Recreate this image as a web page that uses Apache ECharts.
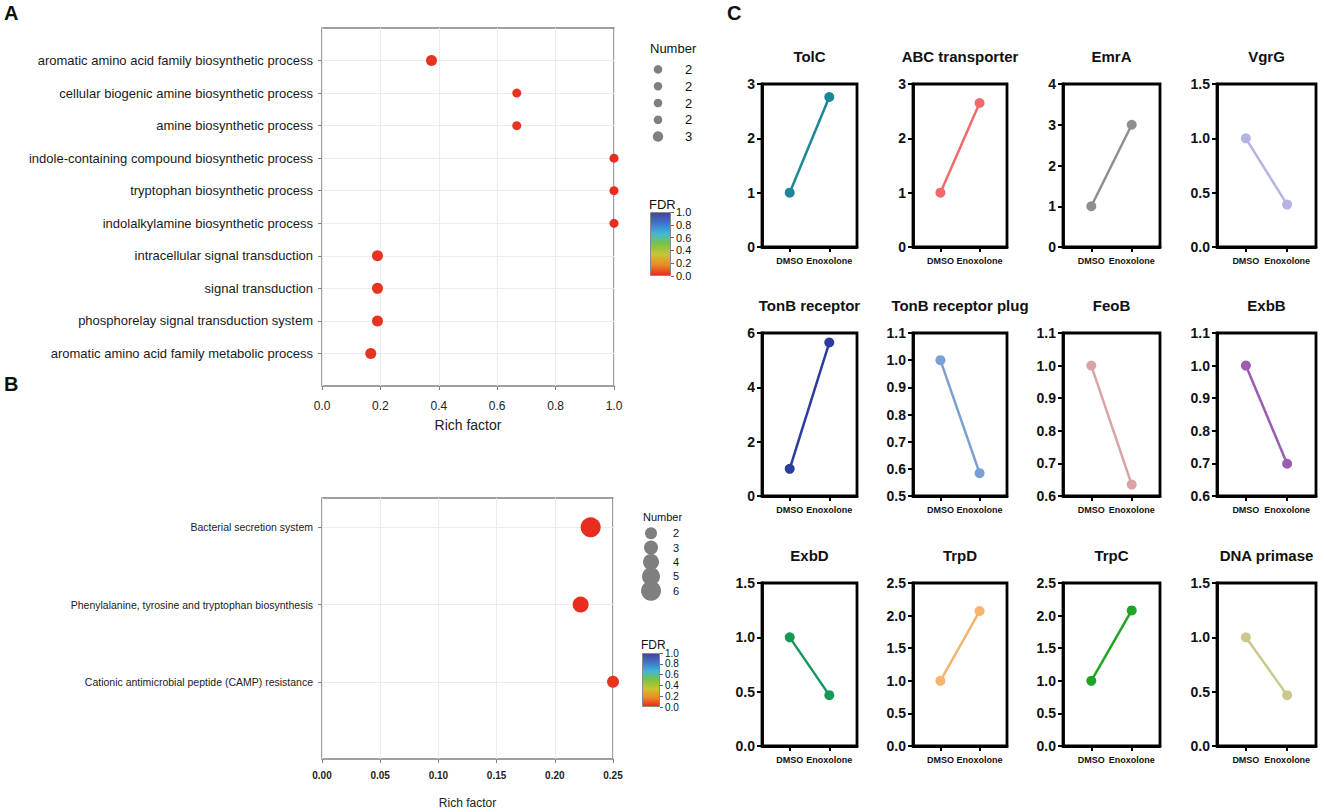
<!DOCTYPE html>
<html>
<head>
<meta charset="utf-8">
<script src="https://cdn.jsdelivr.net/npm/echarts@6.0.0/dist/echarts.min.js"></script>
<style>
  html, body { margin: 0; padding: 0; background: #fff; }
  #main { width: 1325px; height: 812px; }
</style>
</head>
<body>
<div id="main"></div>
<script>
// A: GO terms (top to bottom)
const termsA = [
  "aromatic amino acid family biosynthetic process",
  "cellular biogenic amine biosynthetic process",
  "amine biosynthetic process",
  "indole-containing compound biosynthetic process",
  "tryptophan biosynthetic process",
  "indolalkylamine biosynthetic process",
  "intracellular signal transduction",
  "signal transduction",
  "phosphorelay signal transduction system",
  "aromatic amino acid family metabolic process"
];
const richA = [0.375, 0.667, 0.667, 1.0, 1.0, 1.0, 0.19, 0.19, 0.19, 0.167];
const numberA = [3, 2, 2, 2, 2, 2, 3, 3, 3, 3];
const fdrA = [0.02, 0.02, 0.02, 0.01, 0.01, 0.01, 0.02, 0.02, 0.02, 0.02];
const legendNumA = [2, 2, 2, 2, 3];

// B: KEGG pathways (top to bottom)
const termsB = [
  "Bacterial secretion system",
  "Phenylalanine, tyrosine and tryptophan biosynthesis",
  "Cationic antimicrobial peptide (CAMP) resistance"
];
const richB = [0.2308, 0.2222, 0.25];
const numberB = [6, 4, 2];
const fdrB = [0.01, 0.01, 0.02];
const legendNumB = [2, 3, 4, 5, 6];

// C: relative expression
const genes = ["TolC", "ABC transporter", "EmrA", "VgrG",
  "TonB receptor", "TonB receptor plug", "FeoB", "ExbB",
  "ExbD", "TrpD", "TrpC", "DNA primase"];
const groups = ["DMSO", "Enoxolone"];
const dmso = [1, 1, 1, 1, 1, 1, 1, 1, 1, 1, 1, 1];
const enox = [2.76, 2.65, 3.0, 0.39, 5.65, 0.584, 0.635, 0.699, 0.468, 2.07, 2.08, 0.468];
const yMin = [0, 0, 0, 0, 0, 0.5, 0.6, 0.6, 0, 0, 0, 0];
const yMax = [3, 3, 4, 1.5, 6, 1.1, 1.1, 1.1, 1.5, 2.5, 2.5, 1.5];
const yStep = [1, 1, 1, 0.5, 2, 0.1, 0.1, 0.1, 0.5, 0.5, 0.5, 0.5];

// styles
const FONT = '"Liberation Sans", Arial, sans-serif';
const geneColors = ["#1b8797", "#ef6b6b", "#8f8f8f", "#b4b4e4",
  "#2b3c9c", "#7a9fd2", "#d8a4a6", "#9a5db0",
  "#17985a", "#f7b46e", "#1fa524", "#c9c98f"];
const fdrColors = ["#e8271f", "#ea8a26", "#c9c431", "#7cc242", "#3fb8d8", "#3d74c9", "#4b3f9c"];
const fdrGradient = new echarts.graphic.LinearGradient(0, 1, 0, 0,
  fdrColors.map((c, i) => ({ offset: i / (fdrColors.length - 1), color: c })));
const sizeA = n => 9 + (n - 2) * 2;
const sizeB = n => 12 + (n - 2) * 2;

const grids = [], xAxes = [], yAxes = [], series = [], texts = [];

function addGrid(g) {
  grids.push(Object.assign({ outerBoundsMode: "none", containLabel: false }, g));
  return grids.length - 1;
}
function addText(x, y, text, font, align) {
  texts.push({
    type: "text", x: x, y: y, silent: true,
    style: { text: text, font: font, fill: "#111", align: align || "left", verticalAlign: "middle" }
  });
}

// ---------- enrichment dot plot ----------
function dotPanel(cfg) {
  const n = cfg.terms.length;
  const gi = addGrid({ left: cfg.left, top: cfg.top, width: cfg.width, height: cfg.height,
    show: true, borderColor: "#808080", borderWidth: 1.5 });
  const rows = cfg.terms.map((t, i) => n - i);
  xAxes.push({
    gridIndex: gi, type: "value", min: 0, max: cfg.xMax, interval: cfg.xStep,
    axisLine: { show: false },
    axisTick: { show: true, length: 4, lineStyle: { color: "#808080" } },
    axisLabel: { formatter: v => v.toFixed(cfg.dec), fontSize: cfg.tickFont, fontWeight: cfg.tickWeight,
      color: "#222", margin: cfg.tickMargin, fontFamily: FONT },
    splitLine: { show: true, lineStyle: { color: "#ebebeb", width: 1 } },
    name: "Rich factor", nameLocation: "middle", nameGap: cfg.nameGap,
    nameTextStyle: { fontSize: cfg.nameFont, color: "#222", fontFamily: FONT }
  });
  yAxes.push({
    gridIndex: gi, type: "value", min: 0, max: cfg.yMax, interval: 1,
    axisLine: { show: false, onZero: false },
    axisTick: { show: true, length: 4, customValues: rows, lineStyle: { color: "#808080" } },
    axisLabel: { customValues: rows, formatter: v => cfg.terms[n - v] || "",
      fontSize: cfg.labelFont, color: "#1a1a1a", margin: 9, fontFamily: FONT },
    splitLine: { show: true, lineStyle: { color: "#ebebeb", width: 1 } }
  });
  series.push({
    type: "scatter", xAxisIndex: xAxes.length - 1, yAxisIndex: yAxes.length - 1,
    data: cfg.terms.map((t, i) => [cfg.rich[i], n - i, cfg.number[i], cfg.fdr[i]]),
    symbolSize: d => cfg.size(d[2]), itemStyle: { opacity: 1 }, z: 5
  });
  const dotSeries = series.length - 1;

  // size legend
  const lg = addGrid({ left: cfg.lgX - 8, top: cfg.lgTop, width: 16, height: cfg.lgHeight });
  xAxes.push({ gridIndex: lg, type: "value", min: -1, max: 1, show: false });
  yAxes.push({
    gridIndex: lg, type: "value", min: 0.5, max: 5.5, inverse: true, position: "right",
    axisLine: { show: false, onZero: false }, axisTick: { show: false }, splitLine: { show: false },
    axisLabel: { customValues: [1, 2, 3, 4, 5], formatter: v => String(cfg.legendNum[v - 1]),
      fontSize: cfg.lgFont, color: "#111", margin: cfg.lgMargin, fontFamily: FONT }
  });
  series.push({
    type: "scatter", xAxisIndex: xAxes.length - 1, yAxisIndex: yAxes.length - 1,
    data: cfg.legendNum.map((v, i) => [0, i + 1, v]),
    symbolSize: d => cfg.size(d[2]) * cfg.lgScale, itemStyle: { color: "#7f7f7f", opacity: 1 }
  });
  addText(cfg.numX, cfg.numY, "Number", cfg.lgFont + "px " + FONT);

  // FDR colour bar
  const cb = addGrid({ left: cfg.cbX, top: cfg.cbTop, width: cfg.cbW, height: cfg.cbH });
  xAxes.push({ gridIndex: cb, type: "category", data: ["FDR"], show: false });
  yAxes.push({
    gridIndex: cb, type: "value", min: 0, max: 1, interval: 0.2, position: "right",
    axisLine: { show: false, onZero: false }, splitLine: { show: false },
    axisTick: { show: true, length: 3, lineStyle: { color: "#666" } },
    axisLabel: { formatter: v => v.toFixed(1), fontSize: cfg.cbFont, color: "#111", margin: 5, fontFamily: FONT }
  });
  series.push({
    type: "bar", xAxisIndex: xAxes.length - 1, yAxisIndex: yAxes.length - 1,
    data: [1], barWidth: "100%", silent: true,
    itemStyle: { color: fdrGradient, borderColor: "#8a8a8a", borderWidth: 1 }
  });
  addText(cfg.cbX - 1, cfg.cbTop - 8, "FDR", cfg.fdrFont + "px " + FONT);
  return dotSeries;
}

const sA = dotPanel({
  terms: termsA, rich: richA, number: numberA, fdr: fdrA, legendNum: legendNumA, size: sizeA,
  left: 322, top: 28, width: 292, height: 358, xMax: 1, xStep: 0.2, dec: 1, yMax: 11,
  tickFont: 12, tickWeight: "normal", tickMargin: 14, nameGap: 32, nameFont: 14, labelFont: 13,
  lgX: 658, lgTop: 61, lgHeight: 84, lgFont: 13, lgMargin: 19, lgScale: 0.95,
  numX: 650, numY: 48, cbX: 650, cbTop: 212, cbW: 21, cbH: 64, cbFont: 11, fdrFont: 13
});
const sB = dotPanel({
  terms: termsB, rich: richB, number: numberB, fdr: fdrB, legendNum: legendNumB, size: sizeB,
  left: 322, top: 498, width: 291, height: 261, xMax: 0.25, xStep: 0.05, dec: 2, yMax: 3.38,
  tickFont: 10, tickWeight: "bold", tickMargin: 11, nameGap: 38, nameFont: 12, labelFont: 10.5,
  lgX: 651, lgTop: 526, lgHeight: 72, lgFont: 11, lgMargin: 14, lgScale: 1,
  numX: 643, numY: 517, cbX: 642, cbTop: 653, cbW: 18, cbH: 54, cbFont: 10, fdrFont: 12
});

// ---------- small line charts ----------
const colLeft = [762, 913, 1063, 1217];
const colWidth = [95, 94, 97, 99];
const rowTop = [84, 333, 583];
const rowTitle = [56, 305, 555];
const plotH = 163;

genes.forEach((g, i) => {
  const r = Math.floor(i / 4), c = i % 4;
  const gi = addGrid({ left: colLeft[c], top: rowTop[r], width: colWidth[c], height: plotH,
    show: true, borderColor: "#000", borderWidth: 2.8 });
  xAxes.push({
    gridIndex: gi, type: "value", min: -0.7, max: 1.7,
    axisLine: { show: true, onZero: false, lineStyle: { color: "#000", width: 2.8 } },
    axisTick: { show: true, customValues: [0, 1], length: 5, lineStyle: { color: "#000", width: 2 } },
    axisLabel: { customValues: [0, 1], formatter: v => groups[v], fontSize: 9, fontWeight: "bold",
      color: "#111", margin: 9, fontFamily: FONT },
    splitLine: { show: false }
  });
  yAxes.push({
    gridIndex: gi, type: "value", min: yMin[i], max: yMax[i], interval: yStep[i],
    axisLine: { show: true, onZero: false, lineStyle: { color: "#000", width: 2.8 } },
    axisTick: { show: true, length: 5, lineStyle: { color: "#000", width: 2 } },
    axisLabel: { formatter: v => yStep[i] < 1 ? v.toFixed(1) : String(Math.round(v)),
      fontSize: 14, fontWeight: "bold", color: "#111", margin: 7, fontFamily: FONT },
    splitLine: { show: false }
  });
  series.push({
    type: "line", xAxisIndex: xAxes.length - 1, yAxisIndex: yAxes.length - 1,
    data: [[0, dmso[i]], [1, enox[i]]],
    symbol: "circle", symbolSize: 10, showSymbol: true,
    lineStyle: { color: geneColors[i], width: 2.5 },
    itemStyle: { color: geneColors[i], borderWidth: 0 }, z: 5
  });
  addText(colLeft[c] + colWidth[c] / 2, rowTitle[r], g, "bold 15px " + FONT, "center");
});

// panel letters
addText(4, 13, "A", "bold 20px " + FONT);
addText(4, 384, "B", "bold 20px " + FONT);
addText(727, 13, "C", "bold 20px " + FONT);

const chart = echarts.init(document.getElementById("main"), null, { renderer: "svg" });
chart.setOption({
  animation: false,
  backgroundColor: "#fff",
  textStyle: { fontFamily: FONT },
  grid: grids,
  xAxis: xAxes,
  yAxis: yAxes,
  visualMap: [{
    type: "continuous", show: false, dimension: 3, min: 0, max: 1,
    seriesIndex: [sA, sB], inRange: { color: fdrColors }
  }],
  series: series,
  graphic: texts
});
</script>
</body>
</html>
